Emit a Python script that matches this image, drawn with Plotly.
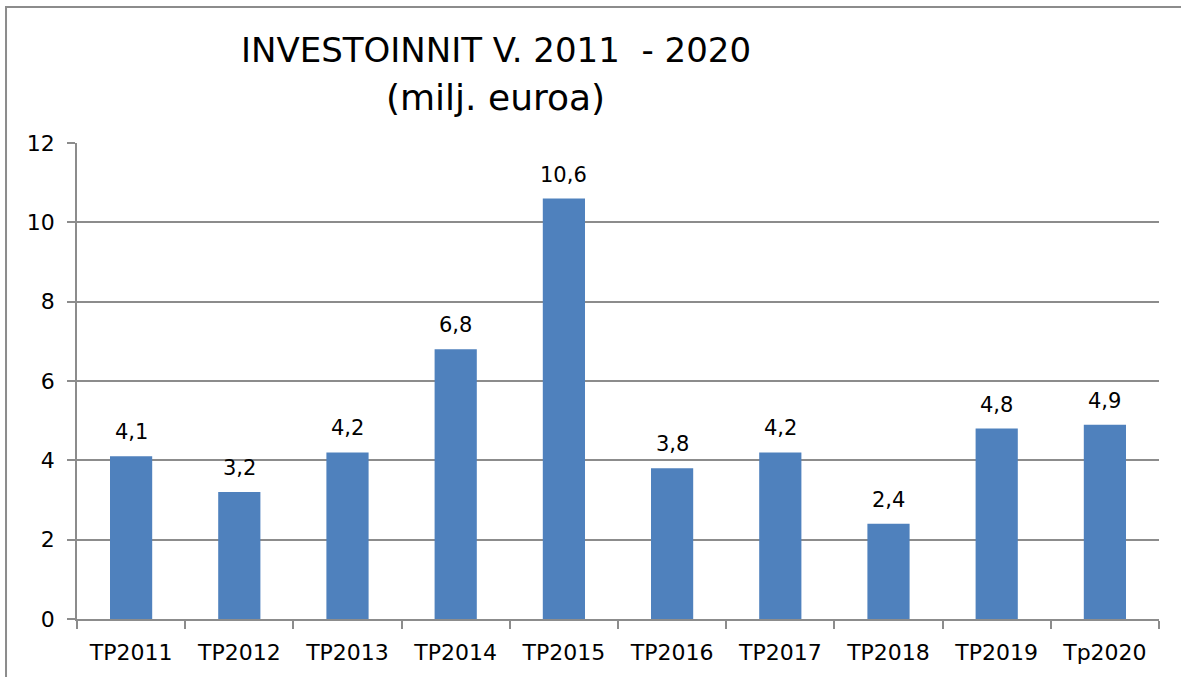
import plotly.graph_objs as go

# data
categories = ["TP2011", "TP2012", "TP2013", "TP2014", "TP2015",
              "TP2016", "TP2017", "TP2018", "TP2019", "Tp2020"]
investments = [4.1, 3.2, 4.2, 6.8, 10.6, 3.8, 4.2, 2.4, 4.8, 4.9]
y_ticks = [0, 2, 4, 6, 8, 10, 12]

FONT = "DejaVu Sans, Verdana, sans-serif"
GRID = "#8c8c8c"

bars = go.Bar(x=categories, y=investments, width=0.39,
              marker=dict(color="#4f81bd", line=dict(width=0)))

layout = go.Layout(
    width=1181, height=677,
    margin=dict(l=77, r=22, t=143, b=58),
    paper_bgcolor="white", plot_bgcolor="white",
    font=dict(family=FONT, size=21, color="black"),
    separators=", ",
    showlegend=False,
    xaxis=dict(type="category", tickson="boundaries", ticks="outside", ticklen=8,
               tickcolor=GRID, tickwidth=1.5, showline=True, linecolor=GRID,
               linewidth=1.5, showgrid=False, tickfont=dict(size=22),
               ticklabelstandoff=13),
    yaxis=dict(range=[0, 12], tickvals=y_ticks, ticks="outside", ticklen=8,
               tickcolor=GRID, tickwidth=1.5, showline=True, linecolor=GRID,
               linewidth=1.5, showgrid=True, gridcolor=GRID, gridwidth=1.5,
               zeroline=False, ticklabelstandoff=8, tickfont=dict(size=22)),
)

fig = go.Figure(data=[bars], layout=layout)

# value labels above bars, decimal comma
for cat, val in zip(categories, investments):
    fig.add_annotation(x=cat, y=val, text=f"{val:.1f}".replace(".", ","),
                       showarrow=False, yanchor="bottom", yshift=10,
                       font=dict(size=21))

# two-line title
fig.add_annotation(xref="paper", yref="paper", x=0.387, y=1.195,
                   text="INVESTOINNIT V. 2011  - 2020", showarrow=False,
                   font=dict(size=34), xanchor="center", yanchor="middle")
fig.add_annotation(xref="paper", yref="paper", x=0.387, y=1.0966,
                   text="(milj. euroa)", showarrow=False,
                   font=dict(size=36), xanchor="center", yanchor="middle")

# outer chart frame (runs past the right and bottom edges of the window)
fig.add_shape(type="rect", xref="paper", yref="paper",
              x0=-0.0656, x1=1.05, y0=-0.2, y1=1.2857,
              line=dict(color="#8c8c8c", width=2), layer="below")

fig.write_html("out.html", config={"displayModeBar": False},
               post_script="document.body.style.margin='0px';")
